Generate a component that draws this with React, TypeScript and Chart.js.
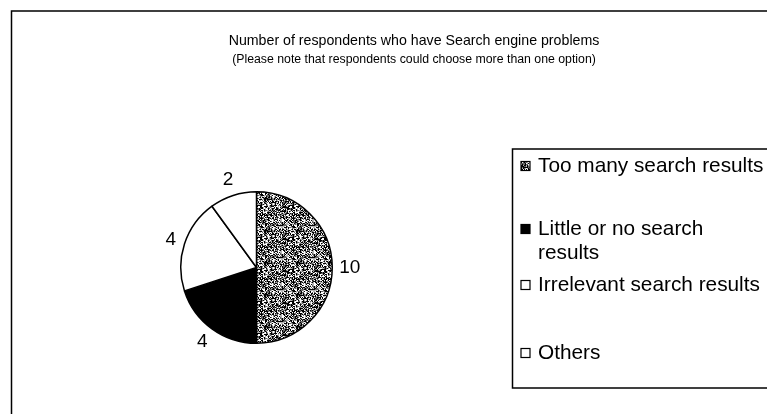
import React, { useEffect, useRef } from "react";
import { Chart, registerables } from "chart.js";

Chart.register(...registerables);

const TITLE = "Number of respondents who have Search engine problems";
const SUBTITLE = "(Please note that respondents could choose more than one option)";
const categories = [
  "Too many search results",
  "Little or no search results",
  "Irrelevant search results",
  "Others",
];
const respondents = [10, 4, 4, 2];

const FONT = "'Liberation Sans', Arial, Helvetica, sans-serif";

function makePattern(ctx: CanvasRenderingContext2D): CanvasPattern | string {
  const size = 32;
  const c = document.createElement("canvas");
  c.width = size;
  c.height = size;
  const g = c.getContext("2d");
  if (!g) return "#777";
  const img = g.createImageData(size, size);
  let s = 12345;
  for (let i = 0; i < size * size; i++) {
    s = (s * 1103515245 + 12345) & 0x7fffffff;
    const v = (s >> 16) % 100;
    const shade = v < 38 ? 0 : v < 58 ? 100 : v < 76 ? 180 : 255;
    img.data[i * 4] = shade;
    img.data[i * 4 + 1] = shade;
    img.data[i * 4 + 2] = shade;
    img.data[i * 4 + 3] = 255;
  }
  g.putImageData(img, 0, 0);
  return ctx.createPattern(c, "repeat") || "#777";
}

function wrap(ctx: CanvasRenderingContext2D, text: string, maxW: number): string[] {
  const words = text.split(" ");
  const lines: string[] = [];
  let cur = "";
  for (const w of words) {
    const t = cur ? cur + " " + w : w;
    if (ctx.measureText(t).width > maxW && cur) {
      lines.push(cur);
      cur = w;
    } else cur = t;
  }
  if (cur) lines.push(cur);
  return lines;
}

export default function App() {
  const ref = useRef<HTMLCanvasElement | null>(null);

  useEffect(() => {
    const canvas = ref.current;
    if (!canvas) return;
    const ctx = canvas.getContext("2d");
    if (!ctx) return;
    const pattern = makePattern(ctx);
    const fills = [pattern, "#000000", "#ffffff", "#ffffff"];

    const overlay = {
      id: "overlay",
      afterDraw(chart: any) {
        const c: CanvasRenderingContext2D = chart.ctx;
        c.save();
        // outer frame
        c.strokeStyle = "#000";
        c.lineWidth = 1.5;
        c.strokeRect(11.5, 11, 900, 600);

        // titles
        c.fillStyle = "#000";
        c.textAlign = "center";
        c.textBaseline = "middle";
        c.font = `14.2px ${FONT}`;
        c.fillText(TITLE, 414, 41);
        c.font = `12.3px ${FONT}`;
        c.fillText(SUBTITLE, 414, 60);

        // data labels
        const meta = chart.getDatasetMeta(0);
        c.font = `19px ${FONT}`;
        meta.data.forEach((arc: any, i: number) => {
          const p = arc.getProps(["x", "y", "startAngle", "endAngle", "outerRadius"], true);
          const mid = (p.startAngle + p.endAngle) / 2;
          const txt = String(chart.data.datasets[0].data[i]);
          const hw = c.measureText(txt).width / 2;
          const hh = 8;
          const d = p.outerRadius + 7 + Math.abs(Math.cos(mid)) * hw + Math.abs(Math.sin(mid)) * hh;
          c.fillText(txt, p.x + Math.cos(mid) * d, p.y + Math.sin(mid) * d);
        });

        // legend
        c.lineWidth = 1.5;
        c.strokeRect(512.5, 149, 400, 239);
        c.font = `20.8px ${FONT}`;
        c.textAlign = "left";
        const rows = [166, 229, 285, 353];
        const labels: string[] = chart.data.labels;
        labels.forEach((lab: string, i: number) => {
          const y = rows[i];
          c.fillStyle = fills[i] as any;
          c.fillRect(521, y - 4.5, 9, 9);
          c.strokeStyle = "#000";
          c.lineWidth = 1.2;
          c.strokeRect(521, y - 4.5, 9, 9);
          c.fillStyle = "#000";
          const lines = wrap(c, lab, 228);
          lines.forEach((ln, j) => c.fillText(ln, 538, y + j * 24));
        });
        c.restore();
      },
    };

    const chart = new Chart(ctx, {
      type: "pie",
      data: {
        labels: categories,
        datasets: [
          {
            data: respondents,
            backgroundColor: fills as any,
            borderColor: "#000",
            borderWidth: 1.5,
          },
        ],
      },
      options: {
        responsive: false,
        animation: false,
        devicePixelRatio: 1,
        layout: { padding: { left: 180, right: 434, top: 191, bottom: 70 } },
        plugins: {
          legend: { display: false },
          title: { display: false },
          tooltip: { enabled: false },
        },
        events: [],
      },
      plugins: [overlay],
    });
    return () => chart.destroy();
  }, []);

  return (
    <div style={{ position: "fixed", left: 0, top: 0, width: 767, height: 414, background: "#fff" }}>
      <canvas ref={ref} width={767} height={414} style={{ display: "block", width: 767, height: 414 }} />
    </div>
  );
}
